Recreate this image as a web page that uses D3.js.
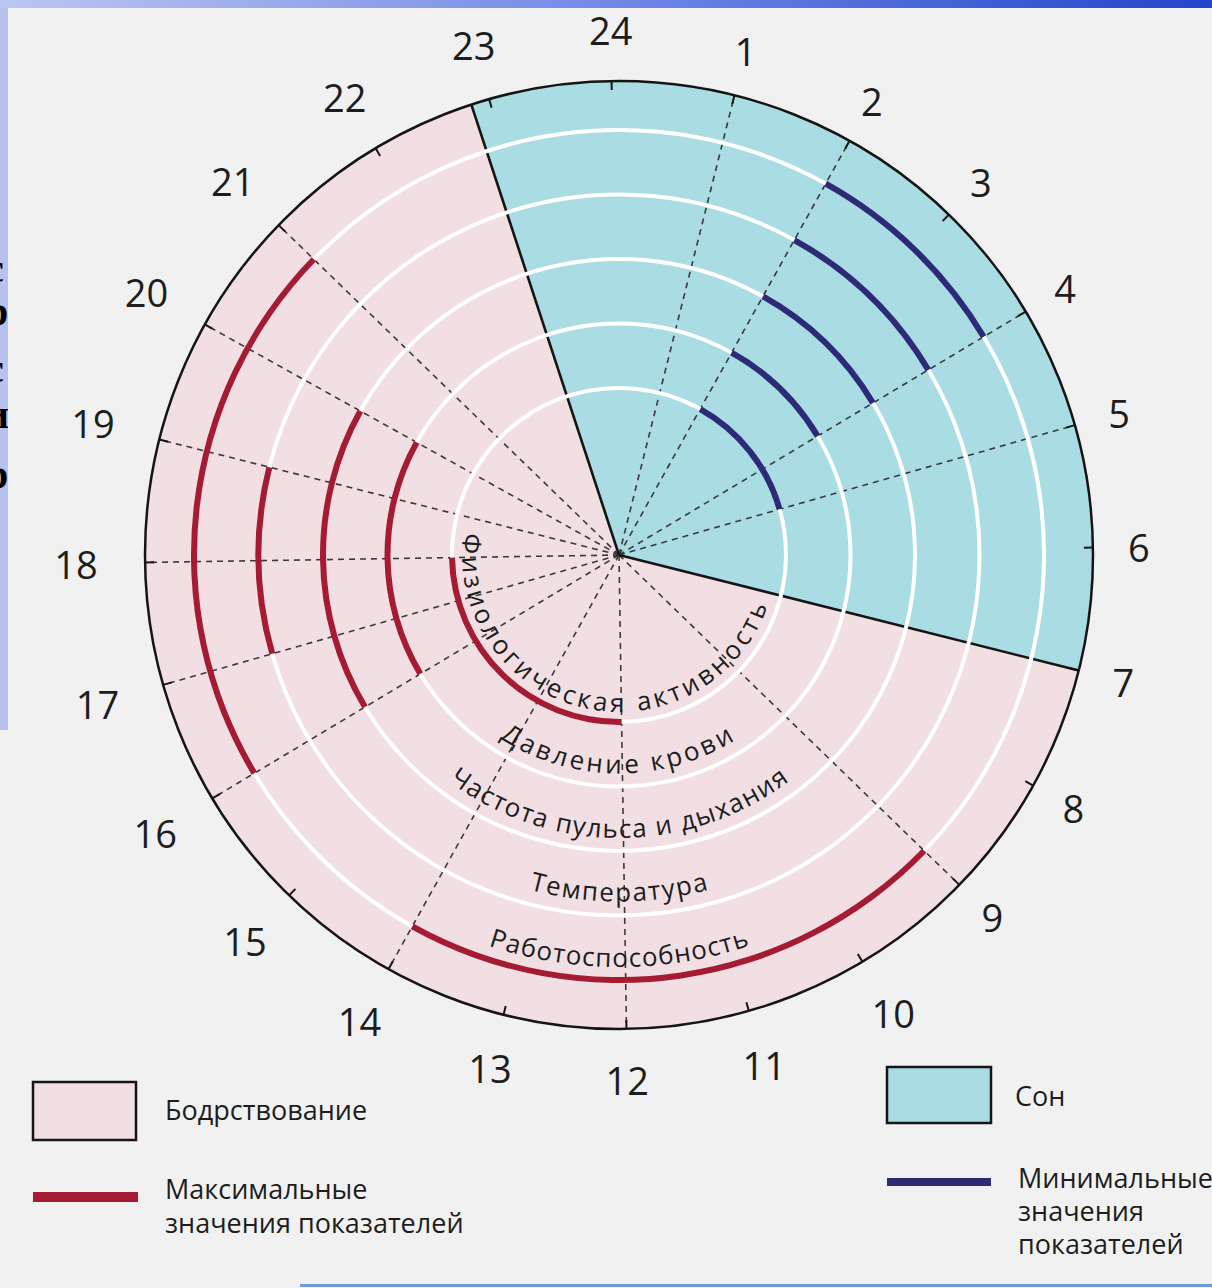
<!DOCTYPE html>
<html>
<head>
<meta charset="utf-8">
<script src="https://cdn.jsdelivr.net/npm/d3@7"></script>
<style>
  body { margin: 0; background: #f1f1f1; }
  svg { display: block; }
</style>
</head>
<body>
<svg id="chart"></svg>
<script>
// Hours on the dial
const hours = [1, 2, 3, 4, 5, 6, 7, 8, 9, 10, 11, 12, 13, 14, 15, 16, 17, 18, 19, 20, 21, 22, 23, 24];
// Hours that get a dashed radius
const dashedHours = [1, 2, 4, 5, 9, 12, 14, 16, 17, 18, 19, 20, 21];
// Sleep period (hours)
const sleepPeriod = [22.85, 7];

// Indicators, from the inner ring outwards
const indicators = ["Физиологическая активность", "Давление крови", "Частота пульса и дыхания", "Температура", "Работоспособность"];

// Maximum values: indicator index, from hour, to hour
const maxPeriods = [
    {ind: 0, from: 12, to: 18},
    {ind: 1, from: 16, to: 20},
    {ind: 2, from: 16, to: 20},
    {ind: 3, from: 17, to: 19},
    {ind: 4, from: 9, to: 14},
    {ind: 4, from: 16, to: 21}
];

// Minimum values
const minPeriods = [
    {ind: 0, from: 2, to: 5},
    {ind: 1, from: 2, to: 4},
    {ind: 2, from: 2, to: 4},
    {ind: 3, from: 2, to: 4},
    {ind: 4, from: 2, to: 4}
];

// Legend
const legendLabels = {
    awake: ["Бодрствование"],
    sleep: ["Сон"],
    max: ["Максимальные", "значения показателей"],
    min: ["Минимальные", "значения", "показателей"]
};

// ---- layout ----
const width = 1212, height = 1288;
const cx = 619, cy = 555, outerR = 474;
const colors = {
    page: "#f1f1f1", pink: "#f1dfe3", blue: "#a9dce3",
    red: "#a51b33", indigo: "#2d2a78", text: "#1d1d1d"
};
const font = "'Open Sans', 'Noto Sans', sans-serif";

// curved label placement (mid angle / span in degrees, clockwise from top)
const labelLayout = [
    {mid: 193.6, span: 169, dr: 10},
    {mid: 180.5, span: 65, dr: 13},
    {mid: 180, span: 74, dr: 13},
    {mid: 180, span: 30, dr: 14},
    {mid: 180, span: 37, dr: 13}
];

const svg = d3.select("#chart")
    .attr("width", width)
    .attr("height", height)
    .style("font-family", font);

const defs = svg.append("defs");
const topGrad = defs.append("linearGradient").attr("id", "topGrad");
topGrad.append("stop").attr("offset", "0%").attr("stop-color", "#bcc6f2");
topGrad.append("stop").attr("offset", "50%").attr("stop-color", "#7389e6");
topGrad.append("stop").attr("offset", "100%").attr("stop-color", "#2444cc");
defs.append("clipPath").attr("id", "stripClip")
    .append("rect").attr("x", 0).attr("y", 0).attr("width", 8).attr("height", 730);

// page + slide frame
svg.append("rect").attr("width", width).attr("height", height).attr("fill", colors.page);
svg.append("rect").attr("x", 0).attr("y", 0).attr("width", 8).attr("height", 730).attr("fill", "#b7c2f0");
svg.append("g").attr("clip-path", "url(#stripClip)")
    .selectAll("text")
    .data(["с", "р", "с", "и", "р"])
    .enter().append("text")
    .attr("x", -14)
    .attr("y", (d, i) => [282, 325, 382, 428, 488][i])
    .attr("font-family", "'Liberation Serif', serif")
    .attr("font-weight", "bold")
    .attr("font-size", 40)
    .text(d => d);
svg.append("rect").attr("x", 0).attr("y", 0).attr("width", width).attr("height", 8).attr("fill", "url(#topGrad)");
svg.append("rect").attr("x", 300).attr("y", 1284).attr("width", width - 300).attr("height", 3).attr("fill", "#6e9ad6");

// ---- scales ----
const tilt = -0.9 * Math.PI / 180;
const angle = d3.scaleLinear().domain([0, 24]).range([tilt, tilt + 2 * Math.PI]);
const ringR = d3.scaleLinear().domain([0, indicators.length - 1]).range([167, 425]);
const px = (r, a) => r * Math.sin(a);
const py = (r, a) => -r * Math.cos(a);

const g = svg.append("g").attr("transform", `translate(${cx}, ${cy})`);

// awake disk
g.append("circle").attr("r", outerR).attr("fill", colors.pink);

// sleep sector
g.append("path")
    .attr("d", d3.arc()
        .innerRadius(0)
        .outerRadius(outerR)
        .startAngle(angle(sleepPeriod[0]) - 2 * Math.PI)
        .endAngle(angle(sleepPeriod[1]))())
    .attr("fill", colors.blue);

// dashed radii
g.selectAll(".radius")
    .data(dashedHours)
    .enter().append("line")
    .attr("class", "radius")
    .attr("x1", 0).attr("y1", 0)
    .attr("x2", d => px(outerR, angle(d)))
    .attr("y2", d => py(outerR, angle(d)))
    .attr("stroke", "#3a3a3a")
    .attr("stroke-width", 1.6)
    .attr("stroke-dasharray", "6 5");

// sector borders
g.selectAll(".border")
    .data(sleepPeriod)
    .enter().append("line")
    .attr("class", "border")
    .attr("x1", 0).attr("y1", 0)
    .attr("x2", d => px(outerR, angle(d)))
    .attr("y2", d => py(outerR, angle(d)))
    .attr("stroke", "#151515")
    .attr("stroke-width", 2.6);

// white ring lines
g.selectAll(".ring")
    .data(indicators)
    .enter().append("circle")
    .attr("class", "ring")
    .attr("r", (d, i) => ringR(i))
    .attr("fill", "none")
    .attr("stroke", "#ffffff")
    .attr("stroke-width", 4);

// max / min arcs
const band = d3.arc()
    .innerRadius(d => ringR(d.ind) - 3)
    .outerRadius(d => ringR(d.ind) + 3)
    .startAngle(d => angle(d.from))
    .endAngle(d => angle(d.to));

g.selectAll(".maxArc")
    .data(maxPeriods)
    .enter().append("path")
    .attr("class", "maxArc")
    .attr("d", band)
    .attr("fill", colors.red);

g.selectAll(".minArc")
    .data(minPeriods)
    .enter().append("path")
    .attr("class", "minArc")
    .attr("d", band)
    .attr("fill", colors.indigo);

// outer circle and ticks
g.append("circle").attr("r", outerR).attr("fill", "none")
    .attr("stroke", "#151515").attr("stroke-width", 2.5);

g.selectAll(".tick")
    .data(hours)
    .enter().append("line")
    .attr("class", "tick")
    .attr("x1", d => px(outerR - 9, angle(d)))
    .attr("y1", d => py(outerR - 9, angle(d)))
    .attr("x2", d => px(outerR, angle(d)))
    .attr("y2", d => py(outerR, angle(d)))
    .attr("stroke", "#151515")
    .attr("stroke-width", 2);

// hour labels
const labelR = d => {
    const a = angle(d);
    const extra = String(d).length > 1 ? 5 + 18 * Math.abs(Math.sin(a)) : 0;
    return 520 + extra;
};
g.selectAll(".hour")
    .data(hours)
    .enter().append("text")
    .attr("class", "hour")
    .attr("x", d => px(labelR(d), angle(d)))
    .attr("y", d => py(labelR(d), angle(d)))
    .attr("text-anchor", "middle")
    .attr("dominant-baseline", "central")
    .attr("font-size", 38)
    .attr("fill", colors.text)
    .text(d => d);

// curved indicator names (paths live in the group's own coordinates)
const deg = Math.PI / 180;
const labelPaths = g.append("g").attr("class", "labelPaths");
indicators.forEach((name, i) => {
    const L = labelLayout[i];
    const r = ringR(i) - L.dr;
    const a0 = (L.mid + L.span / 2) * deg - Math.PI / 2;
    const a1 = (L.mid - L.span / 2) * deg - Math.PI / 2;
    const p = d3.path();
    p.arc(0, 0, r, a0, a1, true);
    labelPaths.append("path").attr("id", "lab" + i).attr("d", p.toString()).attr("fill", "none");
    g.append("text")
        .attr("font-size", 26)
        .attr("fill", colors.text)
        .append("textPath")
        .attr("href", "#lab" + i)
        .attr("startOffset", 0)
        .attr("textLength", r * L.span * deg)
        .attr("lengthAdjust", "spacing")
        .text(name);
});

// ---- legend ----
const legend = svg.append("g").attr("font-size", 27).attr("fill", colors.text);

legend.append("rect")
    .attr("x", 33).attr("y", 1082).attr("width", 103).attr("height", 58)
    .attr("fill", colors.pink).attr("stroke", "#151515").attr("stroke-width", 2.5);
legend.append("text").attr("x", 165).attr("y", 1120).text(legendLabels.awake[0]);

legend.append("line")
    .attr("x1", 33).attr("x2", 138).attr("y1", 1197).attr("y2", 1197)
    .attr("stroke", colors.red).attr("stroke-width", 10);
legend.selectAll(".maxLab")
    .data(legendLabels.max)
    .enter().append("text")
    .attr("class", "maxLab")
    .attr("x", 165)
    .attr("y", (d, i) => 1199 + i * 34)
    .text(d => d);

legend.append("rect")
    .attr("x", 887).attr("y", 1067).attr("width", 104).attr("height", 56)
    .attr("fill", colors.blue).attr("stroke", "#151515").attr("stroke-width", 2.5);
legend.append("text").attr("x", 1015).attr("y", 1106).text(legendLabels.sleep[0]);

legend.append("line")
    .attr("x1", 887).attr("x2", 991).attr("y1", 1182).attr("y2", 1182)
    .attr("stroke", colors.indigo).attr("stroke-width", 8);
legend.selectAll(".minLab")
    .data(legendLabels.min)
    .enter().append("text")
    .attr("class", "minLab")
    .attr("x", 1018)
    .attr("y", (d, i) => 1188 + i * 33)
    .text(d => d);
</script>
</body>
</html>
